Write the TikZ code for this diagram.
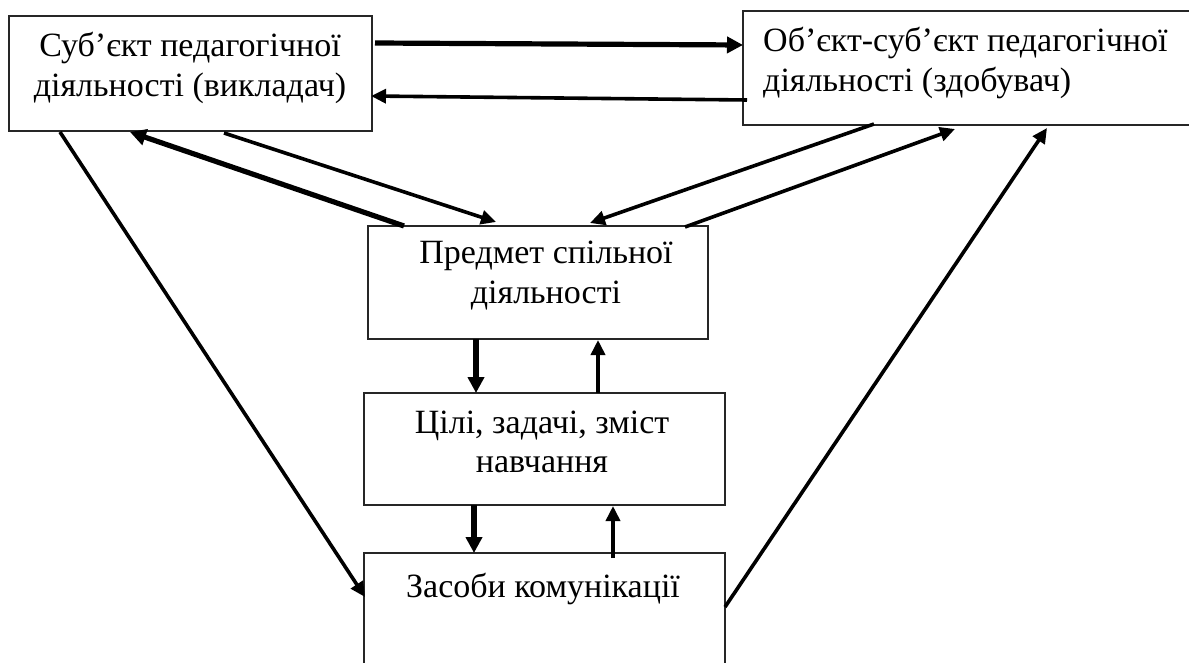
\documentclass[tikz,border=0pt]{standalone}
\usepackage{fontspec}
\setmainfont{Liberation Serif}
\usetikzlibrary{arrows.meta,calc}
\begin{document}
\begin{tikzpicture}[x=1pt,y=-1pt,
  box/.style={draw=black!85, line width=1.6pt, inner sep=0pt, outer sep=0pt, fill=white},
  lbl/.style={anchor=base, inner sep=0pt, font=\fontsize{34}{40}\selectfont},
  lbll/.style={anchor=base west, inner sep=0pt, font=\fontsize{34}{40}\selectfont},
  heavy/.style={line width=5.2pt, -{Triangle[length=16pt,width=16pt]}},
  light/.style={line width=3.6pt, -{Triangle[length=15pt,width=14pt]}},
]
\useasboundingbox (0,0) rectangle (1189,663);
\clip (0,0) rectangle (1189,663);

% boxes
\node[box, minimum width=363pt, minimum height=115pt] (A) at (190.5,73.5) {};
\node[box, minimum width=457pt, minimum height=114pt] (B) at (971.5,68) {};
\node[box, minimum width=340pt, minimum height=113pt] (C) at (538,282.5) {};
\node[box, minimum width=361pt, minimum height=112pt] (D) at (544.5,449) {};
\node[box, minimum width=361pt, minimum height=137pt] (E) at (544.5,621.5) {};

% labels
\node[lbl] (A1) at (190,57) {Суб’єкт педагогічної};
\node[lbl] (A2) at (190,97) {діяльності (викладач)};
\node[lbll] (B1) at (763,52) {Об’єкт-суб’єкт педагогічної};
\node[lbll] (B2) at (763,92) {діяльності (здобувач)};
\node[lbl] (C1) at (546,263) {Предмет спільної};
\node[lbl] (C2) at (546,303) {діяльності};
\node[lbl] (D1) at (542,433) {Цілі, задачі, зміст};
\node[lbl] (D2) at (542,472) {навчання};
\node[lbl] (E1) at (543,597) {Засоби комунікації};

% connectors between the top boxes
\draw[heavy] ($(A.north east)+(3,27)$) -- ($(B.north west)+(0,34)$);
\draw[light] ($(B.north west)+(4,89)$) -- ($(A.north east)+(-1,80)$);

% connectors to and from the middle box
\draw[heavy] ($(C.north west)+(36,0)$) -- ($(A.south west)+(121,1)$);
\draw[light] ($(A.south west)+(215,2)$) -- ($(C.north west)+(128,-4)$);
\draw[light] ($(B.south west)+(131,-1)$) -- ($(C.north west)+(222,-3)$);
\draw[light] ($(C.north west)+(317,1)$) -- ($(B.south west)+(212,4)$);

% long side connectors
\draw[light] ($(A.south west)+(51,1)$) -- ($(E.north west)+(1,44)$);
\draw[light] ($(E.north east)+(0,54)$) -- ($(B.south west)+(304,3)$);

% vertical connectors in the column
\draw[heavy] ($(C.south west)+(108,0)$) -- ($(D.north west)+(112,0)$);
\draw[light] ($(D.north west)+(234,0)$) -- ($(C.south west)+(230,1)$);
\draw[heavy] ($(D.south west)+(110,0)$) -- ($(E.north west)+(110,0)$);
\draw[light] ($(E.north west)+(249,5)$) -- ($(D.south west)+(249,1)$);
\end{tikzpicture}
\end{document}
